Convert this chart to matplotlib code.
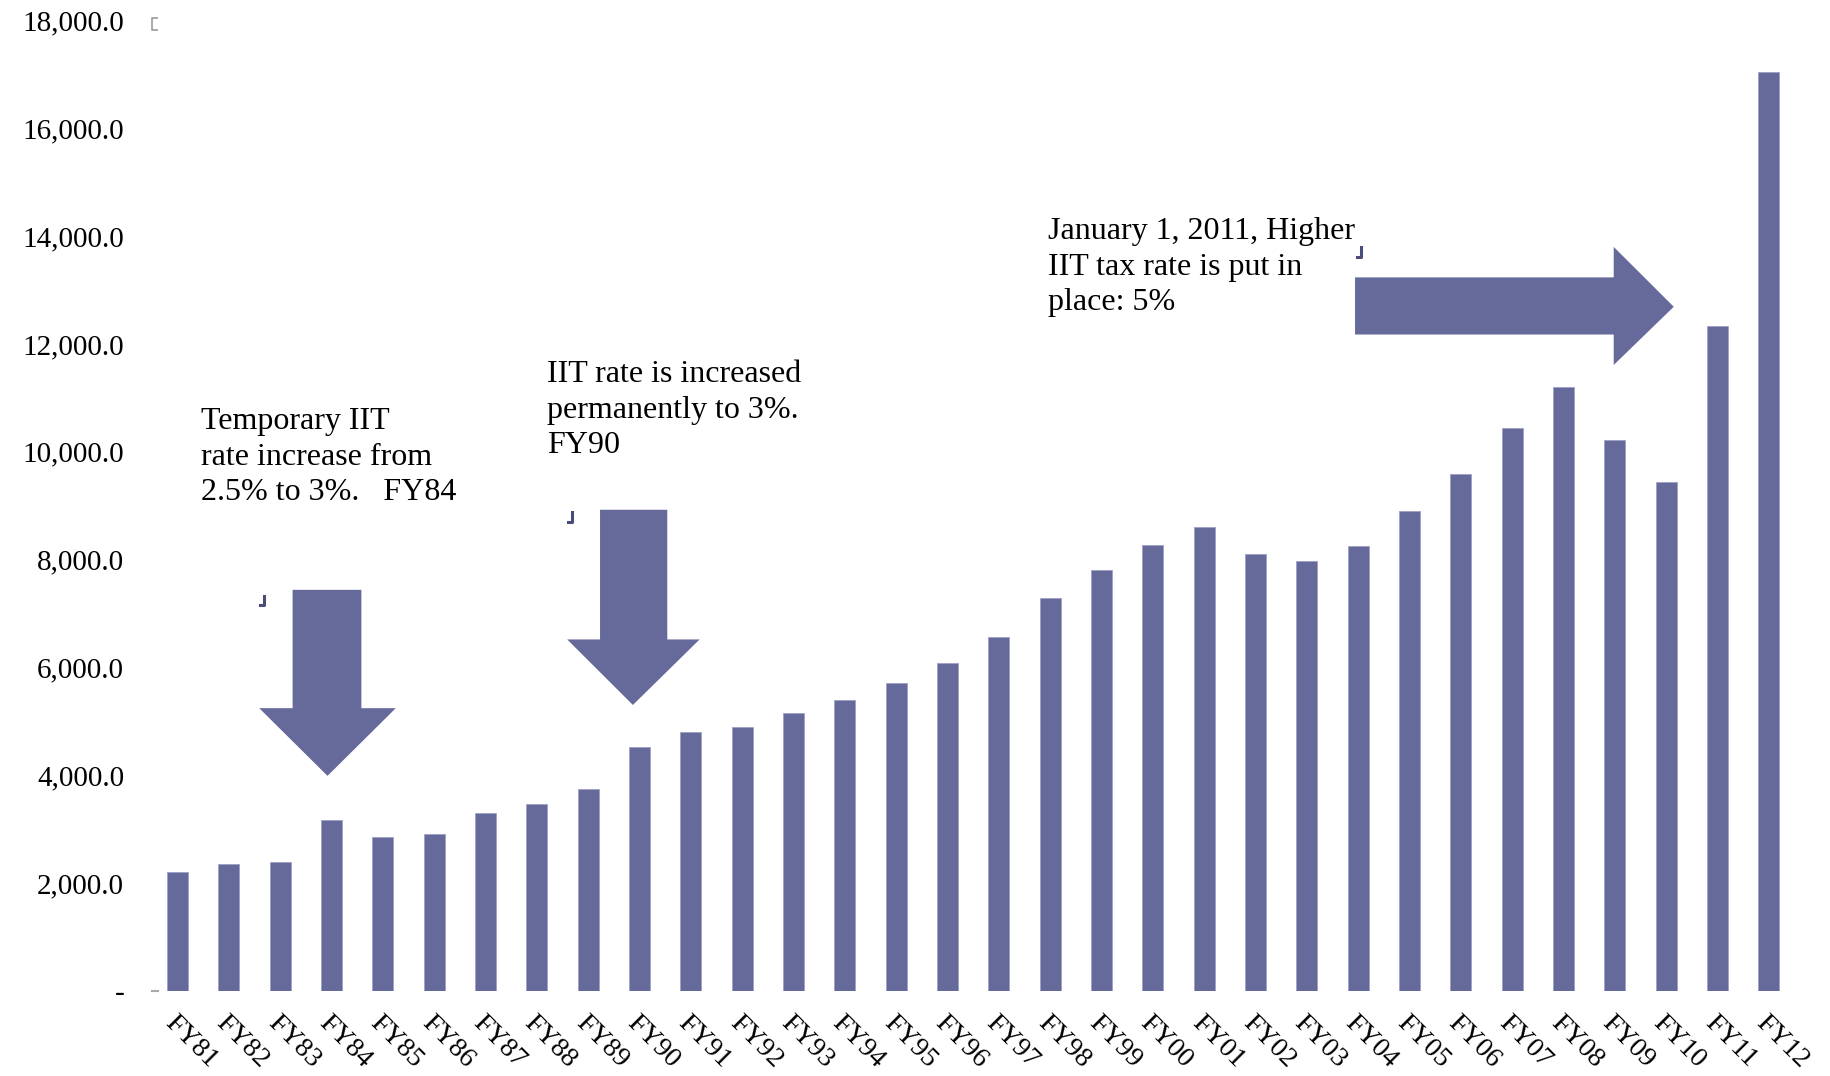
import matplotlib.pyplot as plt
from matplotlib.patches import Polygon
from matplotlib.ticker import FuncFormatter

years = ['FY81', 'FY82', 'FY83', 'FY84', 'FY85', 'FY86', 'FY87', 'FY88', 'FY89', 'FY90',
         'FY91', 'FY92', 'FY93', 'FY94', 'FY95', 'FY96', 'FY97', 'FY98', 'FY99', 'FY00',
         'FY01', 'FY02', 'FY03', 'FY04', 'FY05', 'FY06', 'FY07', 'FY08', 'FY09', 'FY10',
         'FY11', 'FY12']
revenue = [2210, 2360, 2385, 3165, 2860, 2905, 3295, 3465, 3750, 4525,
           4810, 4900, 5155, 5395, 5720, 6090, 6565, 7280, 7800, 8275,
           8600, 8100, 7970, 8255, 8905, 9595, 10440, 11200, 10225, 9445,
           12325, 17050]
yticks = [0, 2000, 4000, 6000, 8000, 10000, 12000, 14000, 16000, 18000]

bar_color = '#666a9b'
plt.rcParams['font.family'] = ['Liberation Serif', 'DejaVu Serif']

fig = plt.figure(figsize=(18.31, 10.76), dpi=100)
ax = fig.add_axes([0.083, 0.079, 0.897, 0.902])

x = list(range(len(years)))
ax.bar(x, revenue, width=0.41, color=bar_color, edgecolor='#9da0c4', linewidth=0.6)

ax.set_xlim(-0.5, len(years) - 0.5)
ax.set_ylim(0, 18000)
ax.set_yticks(yticks)
ax.yaxis.set_major_formatter(FuncFormatter(lambda v, p: '-' if v == 0 else f'{v:,.1f}'))
ax.set_xticks(x)
ax.set_xticklabels(years, rotation=-45, ha='left', va='top', rotation_mode='anchor')
ax.tick_params(axis='both', length=0)
ax.tick_params(axis='y', pad=20, labelsize=21)
ax.tick_params(axis='x', pad=14, labelsize=20)
for s in ax.spines.values():
    s.set_visible(False)

# small grey marks left over from the axis
ax.plot([-0.49, -0.38], [0, 0], color='#aaaaaa', lw=1.5, clip_on=False)
ax.plot([-0.4, -0.49, -0.49, -0.4], [18050, 18050, 17820, 17820], color='#999999', lw=1.2, clip_on=False)

# arrows
arrows = [
    [(2.24, 7440), (3.58, 7440), (3.58, 5245), (4.25, 5245), (2.92, 3990), (1.59, 5245), (2.24, 5245)],
    [(8.23, 8925), (9.54, 8925), (9.54, 6520), (10.17, 6520), (8.87, 5305), (7.59, 6520), (8.23, 6520)],
    [(22.94, 13235), (27.98, 13235), (27.98, 13800), (29.15, 12690), (27.98, 11610), (27.98, 12175), (22.94, 12175)],
]
for pts in arrows:
    ax.add_patch(Polygon(pts, closed=True, facecolor=bar_color, edgecolor='none'))

# little corner handles
for (cx, cy) in [(1.68, 7330), (7.68, 8880), (23.06, 13800)]:
    ax.plot([cx - 0.08, cx, cx], [cy - 180, cy - 180, cy], color='#4a4d7a', lw=2.2)

ax.text(0.455, 10830, 'Temporary IIT\nrate increase from\n2.5% to 3%.   FY84', fontsize=23,
        va='top', ha='left', linespacing=1.3)
ax.text(7.2, 11700, 'IIT rate is increased\npermanently to 3%.\nFY90', fontsize=23,
        va='top', ha='left', linespacing=1.3)
ax.text(16.95, 14350, 'January 1, 2011, Higher\nIIT tax rate is put in\nplace: 5%', fontsize=23,
        va='top', ha='left', linespacing=1.3)

fig.savefig('out.png', dpi=100)
